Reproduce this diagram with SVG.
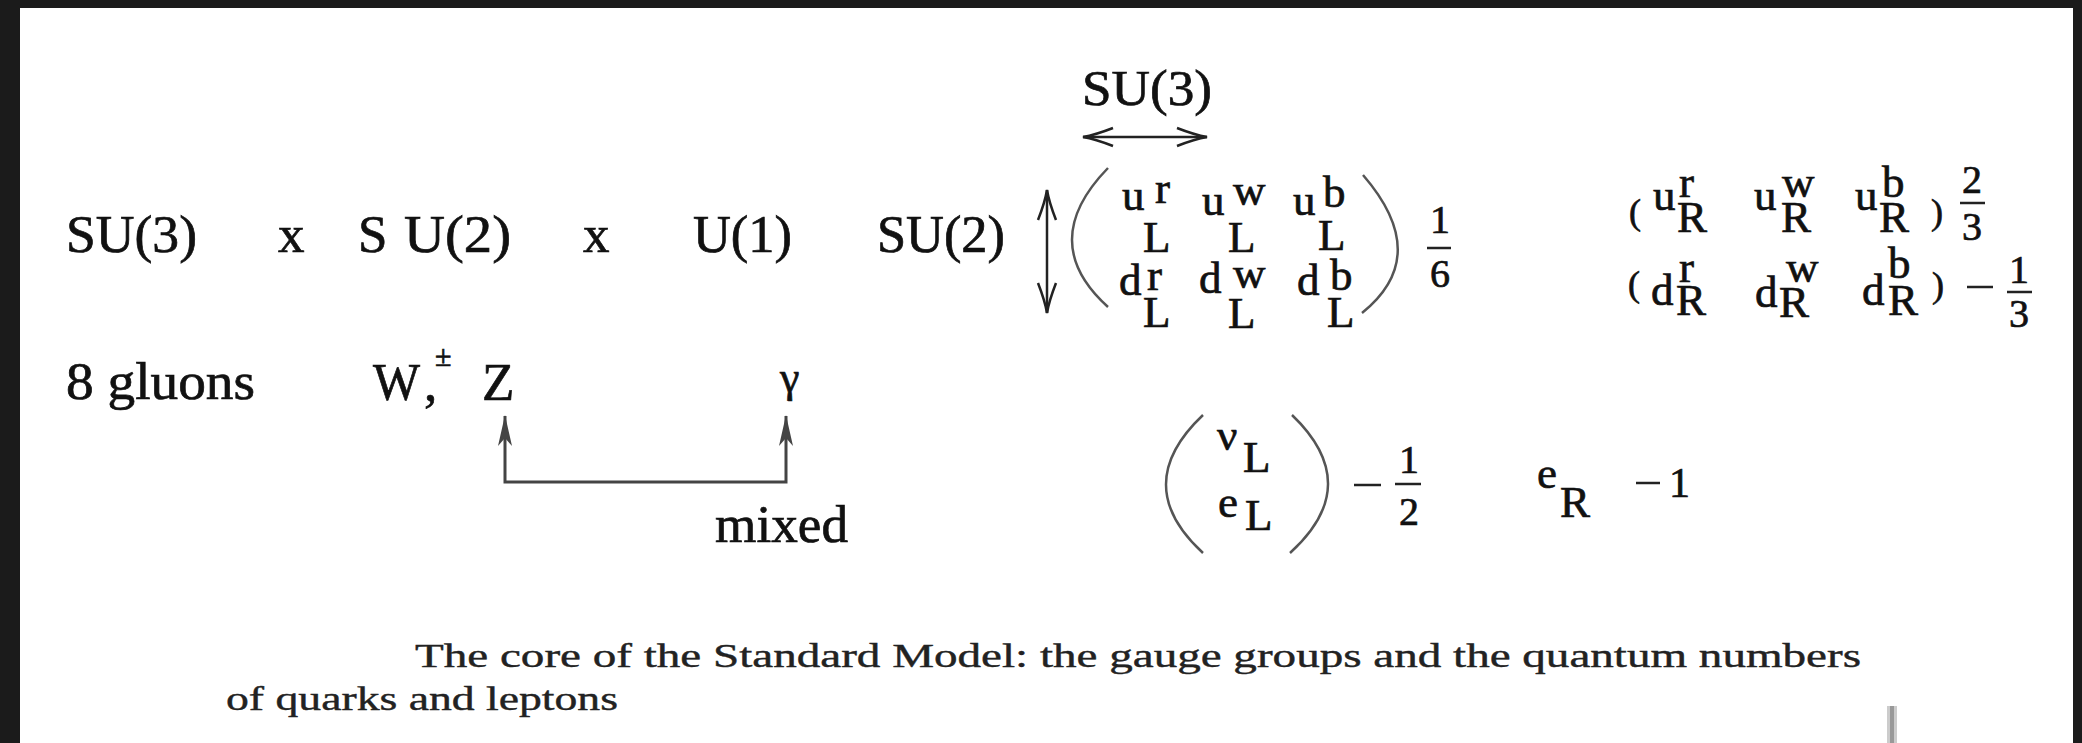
<svg xmlns="http://www.w3.org/2000/svg" width="2082" height="743" viewBox="0 0 2082 743">
<style>
text{font-family:"Liberation Serif","DejaVu Serif",serif;fill:#111;stroke:#111;stroke-width:0.7}
.big{font-size:53px}
.m{font-size:45px}
.fr{font-size:40px;text-anchor:middle}
.cap{font-size:33px;fill:#222;stroke:#222;stroke-width:0.4}
.paren{fill:none;stroke:#555;stroke-width:2.5}
.bar{stroke:#222;stroke-width:2.5}
.dbl{fill:none;stroke:#222;stroke-width:2.5;marker-start:url(#barb);marker-end:url(#barb)}
.mix{fill:none;stroke:#444;stroke-width:3;marker-start:url(#up);marker-end:url(#up)}
</style>
<defs>
<marker id="barb" markerUnits="userSpaceOnUse" viewBox="-34 -12 36 24" markerWidth="36" markerHeight="24" refX="0" refY="0" orient="auto-start-reverse">
<path d="M-30,-9 Q-12,-2 0,0 Q-12,2 -30,9" fill="none" stroke="#222" stroke-width="2.5"/>
</marker>
<marker id="up" markerUnits="userSpaceOnUse" viewBox="-34 -10 36 20" markerWidth="36" markerHeight="20" refX="0" refY="0" orient="auto-start-reverse">
<path d="M1,0 L-30,-7 L-22,0 L-30,7 Z" fill="#444"/>
</marker>
</defs>
<rect x="0" y="0" width="2082" height="743" fill="#1b1b1b"/>
<rect x="20" y="8" width="2053" height="735" fill="#ffffff"/>

<g id="gauge-groups">
<text class="big" x="66" y="252" textLength="131" lengthAdjust="spacingAndGlyphs">SU(3)</text>
<text class="big" x="278" y="252">x</text>
<text class="big" x="358" y="252">S</text>
<text class="big" x="404" y="252" textLength="107" lengthAdjust="spacingAndGlyphs">U(2)</text>
<text class="big" x="583" y="252">x</text>
<text class="big" x="693" y="252" textLength="99" lengthAdjust="spacingAndGlyphs">U(1)</text>
</g>

<g id="bosons">
<text class="big" x="66" y="399" textLength="189" lengthAdjust="spacingAndGlyphs">8 gluons</text>
<text class="big" x="373" y="400" textLength="47" lengthAdjust="spacingAndGlyphs">W</text>
<text class="big" x="424" y="400">,</text>
<text x="435" y="366" style="font-size:30px">±</text>
<text class="big" x="482" y="400">Z</text>
<text x="780" y="392" style="font-size:44px">γ</text>
</g>

<g id="mixed-label">
<text class="big" x="715" y="542" textLength="133" lengthAdjust="spacingAndGlyphs">mixed</text>
</g>

<g id="su3-label">
<text class="big" x="1082" y="105" textLength="130" lengthAdjust="spacingAndGlyphs" style="font-size:50px">SU(3)</text>
</g>

<g id="su2-label">
<text class="big" x="877" y="252" textLength="128" lengthAdjust="spacingAndGlyphs">SU(2)</text>
</g>

<g id="left-quarks">
<path class="paren" d="M1108,168 Q1036,242 1108,307"/>
<path class="paren" d="M1363,175 Q1433,256 1362,313"/>
<text class="m" x="1122" y="210">u</text>
<text class="m" x="1155" y="203">r</text>
<text class="m" x="1143" y="252">L</text>
<text class="m" x="1202" y="215">u</text>
<text class="m" x="1233" y="205">w</text>
<text class="m" x="1228" y="252">L</text>
<text class="m" x="1293" y="215">u</text>
<text class="m" x="1323" y="207">b</text>
<text class="m" x="1318" y="250">L</text>
<text class="m" x="1119" y="295">d</text>
<text class="m" x="1147" y="290">r</text>
<text class="m" x="1143" y="327">L</text>
<text class="m" x="1199" y="293">d</text>
<text class="m" x="1233" y="288">w</text>
<text class="m" x="1228" y="328">L</text>
<text class="m" x="1297" y="295">d</text>
<text class="m" x="1330" y="290">b</text>
<text class="m" x="1327" y="327">L</text>
<text class="fr" x="1440" y="233">1</text>
<line class="bar" x1="1427" y1="248" x2="1451" y2="248"/>
<text class="fr" x="1440" y="287">6</text>
</g>

<g id="right-quarks">
<text x="1629" y="224" style="font-size:36px">(</text>
<text class="m" x="1653" y="210">u</text>
<text class="m" x="1679" y="197">r</text>
<text class="m" x="1677" y="232">R</text>
<text class="m" x="1754" y="210">u</text>
<text class="m" x="1782" y="197">w</text>
<text class="m" x="1781" y="232">R</text>
<text class="m" x="1855" y="210">u</text>
<text class="m" x="1882" y="197">b</text>
<text class="m" x="1879" y="232">R</text>
<text x="1931" y="224" style="font-size:36px">)</text>
<text class="fr" x="1972" y="193">2</text>
<line class="bar" x1="1960" y1="203" x2="1985" y2="203"/>
<text class="fr" x="1972" y="240">3</text>

<text x="1628" y="296" style="font-size:36px">(</text>
<text class="m" x="1651" y="305">d</text>
<text class="m" x="1679" y="282">r</text>
<text class="m" x="1676" y="315">R</text>
<text class="m" x="1755" y="307">d</text>
<text class="m" x="1786" y="282">w</text>
<text class="m" x="1779" y="317">R</text>
<text class="m" x="1862" y="305">d</text>
<text class="m" x="1888" y="278">b</text>
<text class="m" x="1888" y="315">R</text>
<text x="1932" y="297" style="font-size:36px">)</text>
<line class="bar" x1="1967" y1="287" x2="1993" y2="287"/>
<text class="fr" x="2019" y="283">1</text>
<line class="bar" x1="2007" y1="292" x2="2032" y2="292"/>
<text class="fr" x="2019" y="327">3</text>
</g>

<g id="leptons">
<path class="paren" d="M1203,415 Q1129,485 1203,553"/>
<path class="paren" d="M1292,415 Q1365,485 1290,553"/>
<text class="m" x="1217" y="450">ν</text>
<text class="m" x="1243" y="472">L</text>
<text class="m" x="1218" y="517">e</text>
<text class="m" x="1245" y="530">L</text>
<line class="bar" x1="1354" y1="485" x2="1381" y2="485"/>
<text class="fr" x="1409" y="473">1</text>
<line class="bar" x1="1395" y1="484" x2="1421" y2="484"/>
<text class="fr" x="1409" y="525">2</text>
<text class="m" x="1537" y="488">e</text>
<text class="m" x="1560" y="517">R</text>
<line class="bar" x1="1636" y1="483" x2="1660" y2="483"/>
<text x="1669" y="497" style="font-size:42px">1</text>
</g>

<g id="connectors">
<path class="dbl" d="M1083,137 H1207"/>
<path class="dbl" d="M1047,190 V313"/>
<path class="mix" d="M505,416 V482 H786 V416"/>
</g>

<g id="caption">
<text class="cap" x="415" y="667" textLength="1446" lengthAdjust="spacingAndGlyphs">The core of the Standard Model:  the gauge groups and the quantum numbers</text>
<text class="cap" x="226" y="710" textLength="392" lengthAdjust="spacingAndGlyphs">of quarks and leptons</text>
<rect x="1887" y="706" width="10" height="37" fill="#cccccc"/>
<rect x="1890" y="706" width="4" height="37" fill="#999999"/>
</g>
</svg>
